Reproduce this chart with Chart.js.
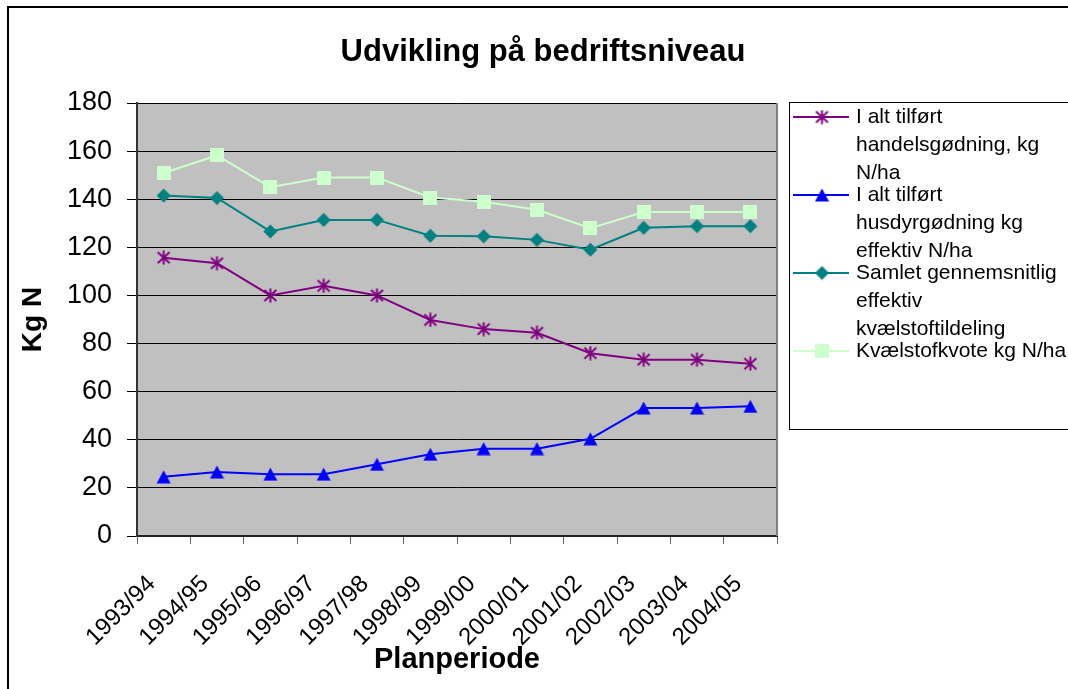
<!DOCTYPE html>
<html>
<head>
<meta charset="utf-8">
<script src="https://cdn.jsdelivr.net/npm/chart.js"></script>
<style>
  body { margin: 0; background: #fff; }
  canvas { display: block; }
</style>
</head>
<body>
<canvas id="nChart" width="1068" height="689"></canvas>
<script>
    // Data
    const periods = ['1993/94', '1994/95', '1995/96', '1996/97', '1997/98', '1998/99',
                     '1999/00', '2000/01', '2001/02', '2002/03', '2003/04', '2004/05'];
    const handelsgodning = [115.7, 113.4, 100, 104, 100, 89.8, 86, 84.5, 76, 73.3, 73.3, 71.6];
    const husdyrgodning = [24.6, 26.6, 25.7, 25.7, 29.8, 34, 36.3, 36.3, 40.4, 53.2, 53.2, 53.9];
    const samletTildeling = [141.5, 140.5, 126.6, 131.4, 131.4, 124.8, 124.6, 123.1, 119, 128.1, 128.8, 128.8];
    const kvote = [150.9, 158.2, 145, 149, 149, 140.7, 138.9, 135.6, 128, 134.7, 134.7, 134.7];

    const seriesLabels = [
        ['I alt tilført', 'handelsgødning, kg', 'N/ha'],
        ['I alt tilført', 'husdyrgødning kg', 'effektiv N/ha'],
        ['Samlet gennemsnitlig', 'effektiv', 'kvælstoftildeling'],
        ['Kvælstofkvote kg N/ha']
    ];
    const yTickValues = [0, 20, 40, 60, 80, 100, 120, 140, 160, 180];

    const chartTitle = 'Udvikling på bedriftsniveau';
    const yTitle = 'Kg N';
    const xTitle = 'Planperiode';

    const FONT = "'Liberation Sans', Arial, sans-serif";

    // small canvases used as point markers (Excel style)
    function makeMarker(w, h, draw) {
        const c = document.createElement('canvas');
        c.width = w;
        c.height = h;
        draw(c.getContext('2d'), w, h);
        return c;
    }

    const asterisk = makeMarker(15, 15, function(ctx) {
        ctx.strokeStyle = '#800080';
        ctx.lineWidth = 2;
        ctx.beginPath();
        ctx.moveTo(7.5, 0.5); ctx.lineTo(7.5, 14.5);
        ctx.moveTo(1.5, 2); ctx.lineTo(13.5, 13);
        ctx.moveTo(13.5, 2); ctx.lineTo(1.5, 13);
        ctx.stroke();
    });
    const triangle = makeMarker(15, 14, function(ctx) {
        ctx.fillStyle = '#0000FF';
        ctx.beginPath();
        ctx.moveTo(7.5, 0.5); ctx.lineTo(14.5, 13.5); ctx.lineTo(0.5, 13.5);
        ctx.closePath();
        ctx.fill();
    });
    const diamond = makeMarker(15, 15, function(ctx) {
        ctx.fillStyle = '#008080';
        ctx.beginPath();
        ctx.moveTo(7.5, 0.5); ctx.lineTo(14.5, 7.5); ctx.lineTo(7.5, 14.5); ctx.lineTo(0.5, 7.5);
        ctx.closePath();
        ctx.fill();
    });
    const square = makeMarker(14, 14, function(ctx) {
        ctx.fillStyle = '#CCFFCC';
        ctx.fillRect(0, 0, 14, 14);
    });

    const colors = ['#800080', '#0000FF', '#008080', '#CCFFCC'];
    const markers = [asterisk, triangle, diamond, square];
    const values = [handelsgodning, husdyrgodning, samletTildeling, kvote];

    const datasets = values.map(function(v, i) {
        return {
            label: seriesLabels[i].join(' '),
            data: v,
            borderColor: colors[i],
            backgroundColor: colors[i],
            borderWidth: 2,
            pointStyle: markers[i],
            pointRadius: 7,
            tension: 0
        };
    });

    // grey plot area, right border, outer frame, title and legend
    const decor = {
        id: 'decor',
        beforeDraw(chart) {
            const ctx = chart.ctx;
            const a = chart.chartArea;
            ctx.save();
            ctx.fillStyle = '#fff';
            ctx.fillRect(0, 0, chart.width, chart.height);
            ctx.fillStyle = '#C0C0C0';
            ctx.fillRect(a.left, a.top, a.right - a.left, a.bottom - a.top);
            ctx.restore();
        },
        beforeDatasetsDraw(chart) {
            const ctx = chart.ctx;
            const a = chart.chartArea;
            ctx.save();
            ctx.strokeStyle = '#808080';
            ctx.lineWidth = 2;
            ctx.beginPath();
            ctx.moveTo(a.right, a.top);
            ctx.lineTo(a.right, a.bottom);
            ctx.stroke();
            ctx.restore();
        },
        afterDraw(chart) {
            const ctx = chart.ctx;
            ctx.save();
            // outer frame
            ctx.strokeStyle = '#000';
            ctx.lineWidth = 2;
            ctx.strokeRect(8, 7, 1120, 720);

            // title
            ctx.fillStyle = '#000';
            ctx.font = 'bold 31px ' + FONT;
            ctx.textAlign = 'center';
            ctx.textBaseline = 'alphabetic';
            ctx.fillText(chartTitle, 543, 61);

            // legend box
            ctx.fillStyle = '#fff';
            ctx.fillRect(789, 102, 320, 327);
            ctx.strokeStyle = '#000';
            ctx.lineWidth = 1;
            ctx.strokeRect(789.5, 102.5, 320, 327);

            ctx.font = '21px ' + FONT;
            ctx.textAlign = 'left';
            ctx.textBaseline = 'middle';
            chart.data.datasets.forEach(function(ds, i) {
                const y = 117 + 78 * i;
                ctx.strokeStyle = ds.borderColor;
                ctx.lineWidth = 2;
                ctx.beginPath();
                ctx.moveTo(793, y);
                ctx.lineTo(849, y);
                ctx.stroke();
                const m = ds.pointStyle;
                ctx.drawImage(m, 822 - m.width / 2, y - m.height / 2);
                ctx.fillStyle = '#000';
                seriesLabels[i].forEach(function(line, j) {
                    ctx.fillText(line, 856, y + 28 * j);
                });
            });
            ctx.restore();
        }
    };

    const ctx = document.getElementById('nChart').getContext('2d');
    const chart = new Chart(ctx, {
        type: 'line',
        data: {
            labels: periods,
            datasets: datasets
        },
        options: {
            responsive: false,
            animation: false,
            layout: {
                padding: { top: 103, right: 291, left: 0, bottom: 0 }
            },
            plugins: {
                legend: { display: false },
                title: { display: false },
                tooltip: { enabled: false }
            },
            scales: {
                x: {
                    offset: true,
                    grid: {
                        offset: true,
                        drawOnChartArea: false,
                        drawTicks: true,
                        tickLength: 8,
                        color: '#666'
                    },
                    border: { display: true, color: '#222', width: 2 },
                    ticks: {
                        color: '#000',
                        font: { family: FONT, size: 24 },
                        minRotation: 45,
                        maxRotation: 45,
                        autoSkip: false,
                        padding: 26,
                        labelOffset: -12
                    },
                    title: {
                        display: true,
                        text: xTitle,
                        color: '#000',
                        font: { family: FONT, size: 29, weight: 'bold' },
                        padding: { top: 0, bottom: 12 }
                    },
                    afterFit: function(scale) { scale.height = 153; }
                },
                y: {
                    min: 0,
                    max: 180,
                    afterBuildTicks: function(scale) {
                        scale.ticks = yTickValues.map(function(v) { return { value: v }; });
                    },
                    grid: {
                        color: '#000',
                        lineWidth: 1,
                        tickLength: 10
                    },
                    border: { display: true, color: '#333', width: 2 },
                    ticks: {
                        color: '#000',
                        font: { family: FONT, size: 27 },
                        padding: 15
                    },
                    title: {
                        display: true,
                        text: yTitle,
                        color: '#000',
                        font: { family: FONT, size: 28, weight: 'bold' },
                        padding: { top: 16, bottom: 0 }
                    },
                    afterFit: function(scale) { scale.width = 137; }
                }
            }
        },
        plugins: [decor]
    });
</script>
</body>
</html>
